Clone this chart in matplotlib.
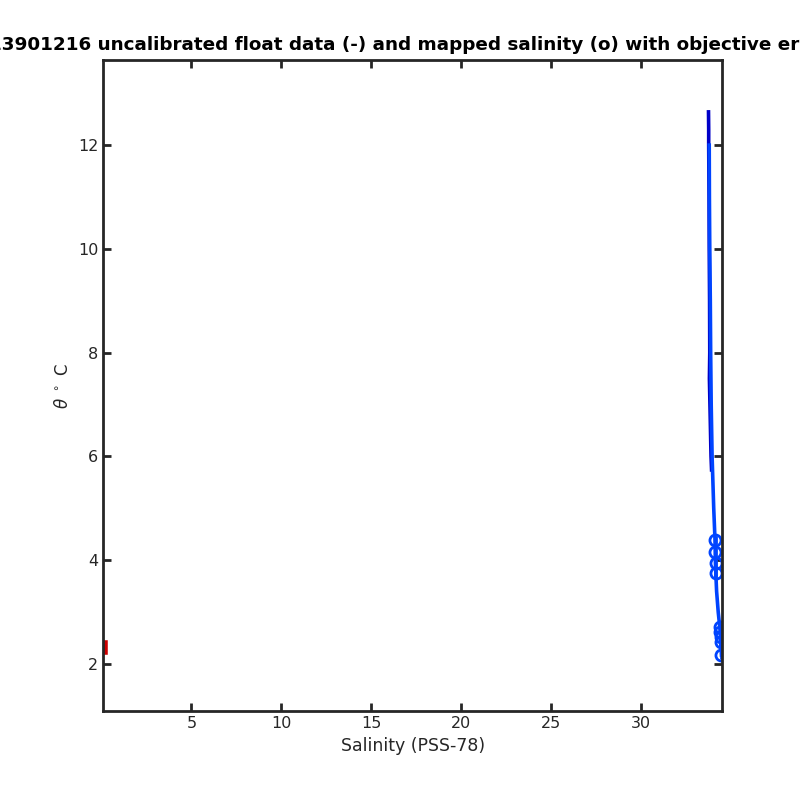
import matplotlib.pyplot as plt
import numpy as np

# profils (theta / salinité)
theta_a = [12.64, 12.3, 12.0, 11.0, 10.0, 9.0, 8.0, 7.5, 7.0, 6.5, 6.0, 5.74]
sal_a = [33.75, 33.76, 33.76, 33.78, 33.79, 33.81, 33.82, 33.80, 33.83, 33.86, 33.89, 33.92]

theta_b = [12.0, 11.0, 10.0, 9.0, 8.0, 7.0, 6.0, 5.0, 4.4, 4.0, 3.8, 3.4, 3.0, 2.7, 2.4, 2.17]
sal_b = [33.79, 33.80, 33.82, 33.85, 33.87, 33.90, 33.95, 34.04, 34.11, 34.13, 34.15, 34.20, 34.29, 34.38, 34.43, 34.47]

# profil rejeté (salinité ~0)
theta_bad = [2.23, 2.40]
sal_bad = [0.22, 0.22]

# salinité cartographiée + erreur objective
map_theta = [4.39, 4.16, 3.95, 3.75, 2.71, 2.62, 2.52, 2.42, 2.17]
map_sal = [34.12, 34.13, 34.14, 34.15, 34.40, 34.41, 34.42, 34.43, 34.47]
map_err = [0.03, 0.03, 0.03, 0.03, 0.02, 0.02, 0.02, 0.02, 0.02]

dark = '#262626'
fig = plt.figure(figsize=(8, 8), dpi=100)
ax = fig.add_axes([0.129, 0.111, 0.7735, 0.814])

ax.plot(sal_a, theta_a, color='#0000c8', linewidth=2.6)
ax.plot(sal_b, theta_b, color='#0044ff', linewidth=2.6)
ax.plot(sal_bad, theta_bad, color='#cc0000', linewidth=4)
ax.errorbar(map_sal, map_theta, xerr=map_err, fmt='o', color='#0044ff',
            mfc='none', mec='#0044ff', markersize=8, mew=2, capsize=3, elinewidth=1.5)

ax.set_xlim(0.1, 34.5)
ax.set_ylim(1.09, 13.64)
ax.set_xticks([5, 10, 15, 20, 25, 30])
ax.set_yticks([2, 4, 6, 8, 10, 12])
ax.tick_params(direction='in', top=True, right=True, length=6, width=2,
               labelsize=11.5, colors=dark, labelcolor=dark)
for s in ax.spines.values():
    s.set_linewidth(2)
    s.set_color(dark)

ax.set_xlabel('Salinity (PSS-78)', fontsize=12.5, color=dark)
ax.set_ylabel(r'$\theta$ $^\circ$ C', fontsize=12, color=dark)
ax.set_title('13901216 uncalibrated float data (-) and mapped salinity (o) with objective errors',
             fontsize=13.2, fontweight='bold', pad=7, x=0.503)

fig.savefig('out.png', dpi=100)
